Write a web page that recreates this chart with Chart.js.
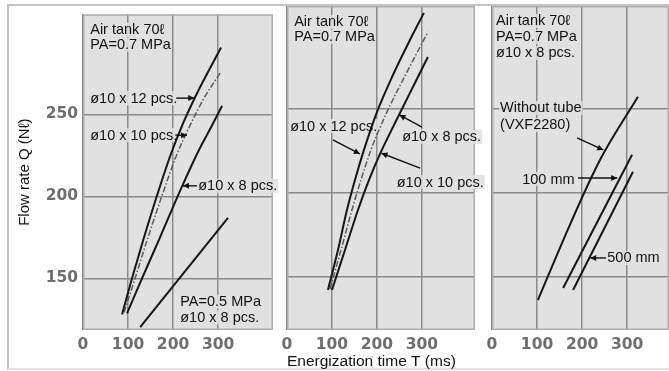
<!DOCTYPE html>
<html><head><meta charset="utf-8">
<script src="https://cdn.jsdelivr.net/npm/chart.js@4/dist/chart.umd.min.js"></script>
<style>
html,body{margin:0;padding:0;background:#fff;width:669px;height:371px;overflow:hidden}
#wrap{position:relative;width:669px;height:371px}
canvas{position:absolute;top:0}
#frame{position:absolute;left:7px;top:4px;width:670px;height:366px;border-top:2px solid #c4c4c4;border-left:2px solid #c4c4c4;border-bottom:2px solid #e2e2e2;box-sizing:border-box}
</style></head><body>
<div id="wrap">
<div id="frame"></div>
<canvas id="c1" width="282" height="371" style="left:0"></canvas>
<canvas id="c2" width="212" height="371" style="left:274px"></canvas>
<canvas id="c3" width="190" height="371" style="left:479px"></canvas>
</div>
<script>
// ---------- data (T in ms, Q in Nℓ) ----------
const xTicks = [0, 100, 200, 300];
const yTicks = [150, 200, 250];

// Panel 1: Air tank 70ℓ, PA=0.7 MPa
const p1_12pcs_T = [86.7, 108.9, 135.6, 164.4, 193.3, 222.2, 253.3, 306.7];
const p1_12pcs_Q = [128, 150, 175, 200.5, 224.3, 244.5, 262.9, 290.8];
const p1_10pcs_T = [91.1, 115.6, 144.4, 175.6, 206.7, 237.8, 268.9, 306.7];
const p1_10pcs_Q = [129.2, 150, 175, 200.5, 224.3, 243.3, 259.9, 276];
const p1_8pcs_T  = [97.8, 131.1, 171.1, 217.8, 257.8, 284.4, 308.9];
const p1_8pcs_Q  = [128.6, 150, 175, 204.7, 228.4, 242.1, 255.2];
const p1_pa05_T  = [127, 322];
const p1_pa05_Q  = [120.2, 186.9];

// Panel 2: Air tank 70ℓ, PA=0.7 MPa
const p2_12pcs_T = [91.1, 113.3, 133.3, 151.1, 171.1, 200, 235.6, 271.1, 304.4];
const p2_12pcs_Q = [142.3, 166, 189.8, 207.6, 225.5, 248, 270, 289.6, 306.9];
const p2_10pcs_T = [95.6, 120, 144.4, 164.4, 186.7, 222.2, 262.2, 313.3];
const p2_10pcs_Q = [142.9, 166, 189.8, 207.6, 225.5, 248, 269.4, 295.6];
const p2_8pcs_T  = [100, 128.9, 157.8, 182.2, 208.9, 248.9, 282.2, 313.3];
const p2_8pcs_Q  = [142.3, 166, 189.8, 207.6, 224.3, 246.2, 264.1, 280.7];

// Panel 3: Air tank 70ℓ, PA=0.7 MPa, ø10 x 8 pcs.
const p3_notube_T = [102, 173, 240, 324];
const p3_notube_Q = [136.3, 181, 219.6, 257.1];
const p3_100mm_T  = [158, 311];
const p3_100mm_Q  = [143.5, 222.6];
const p3_500mm_T  = [180, 313];
const p3_500mm_Q  = [142.3, 212.5];

// ---------- helpers ----------
const pts = (T, Q) => T.map((t, i) => ({x: t, y: Q[i]}));
const solid = (T, Q) => ({data: pts(T, Q), showLine: true, pointRadius: 0, borderColor: '#161616', borderWidth: 2, cubicInterpolationMode: 'monotone'});
const dashed = (T, Q) => ({data: pts(T, Q), showLine: true, pointRadius: 0, borderColor: '#5a5a5a', borderWidth: 1.5, borderDash: [6, 2, 1.5, 2], cubicInterpolationMode: 'monotone'});

const TXT_FONT = '14.5px "Liberation Sans", Arial, sans-serif';

const bgPlugin = {
  id: 'bg',
  beforeDraw(chart) {
    const {ctx, chartArea: a} = chart;
    ctx.save();
    ctx.fillStyle = '#e1e1e1';
    ctx.fillRect(a.left, a.top, a.right - a.left, a.bottom - a.top);
    ctx.restore();
  },
  beforeDatasetsDraw(chart) {
    const {ctx, chartArea: a} = chart;
    ctx.save();
    ctx.strokeStyle = '#adadad';
    ctx.lineWidth = 1.5;
    ctx.strokeRect(a.left + 0.75, a.top + 0.75, a.right - a.left - 1.5, a.bottom - a.top - 1.5);
    ctx.restore();
  }
};

const annotPlugin = {
  id: 'annot',
  beforeDatasetsDraw(chart, args, o) {
    const {ctx} = chart;
    const sx = chart.scales.x, sy = chart.scales.y;
    ctx.save();
    ctx.font = TXT_FONT;
    ctx.fillStyle = 'rgba(225,225,225,0.85)';
    for (const t of (o.texts || [])) {
      const x = sx.getPixelForValue(t.t), y = sy.getPixelForValue(t.q);
      const w = ctx.measureText(t.text).width;
      ctx.fillRect(x - 1, y - 7, w + 2, 14);
    }
    ctx.restore();
  },
  afterDatasetsDraw(chart, args, o) {
    const {ctx} = chart;
    const sx = chart.scales.x, sy = chart.scales.y;
    ctx.save();
    ctx.strokeStyle = '#111';
    ctx.fillStyle = '#111';
    ctx.lineWidth = 1.4;
    for (const ar of (o.arrows || [])) {
      const x1 = sx.getPixelForValue(ar[0]), y1 = sy.getPixelForValue(ar[1]);
      const x2 = sx.getPixelForValue(ar[2]), y2 = sy.getPixelForValue(ar[3]);
      ctx.beginPath(); ctx.moveTo(x1, y1); ctx.lineTo(x2, y2); ctx.stroke();
      const ang = Math.atan2(y2 - y1, x2 - x1), L = 6, W = 3;
      ctx.beginPath();
      ctx.moveTo(x2, y2);
      ctx.lineTo(x2 - L * Math.cos(ang) + W * Math.sin(ang), y2 - L * Math.sin(ang) - W * Math.cos(ang));
      ctx.lineTo(x2 - L * Math.cos(ang) - W * Math.sin(ang), y2 - L * Math.sin(ang) + W * Math.cos(ang));
      ctx.closePath(); ctx.fill();
    }
    ctx.font = TXT_FONT;
    ctx.textBaseline = 'middle';
    ctx.textAlign = 'left';
    ctx.fillStyle = '#111';
    for (const t of (o.texts || [])) {
      const x = sx.getPixelForValue(t.t), y = sy.getPixelForValue(t.q);
      ctx.fillText(t.text, x, y + 0.5);
    }
    ctx.restore();
  }
};

const tickFont = {family: '"DejaVu Sans", sans-serif', weight: 'bold', size: 15.5};

function makeChart(id, datasets, o) {
  return new Chart(document.getElementById(id), {
    type: 'scatter',
    data: {datasets},
    options: {
      responsive: false, animation: false, events: [],
      layout: {padding: {left: o.padL, right: o.padR, top: 6, bottom: 0}},
      plugins: {legend: {display: false}, tooltip: {enabled: false}, annot: o.annot},
      scales: {
        x: {
          type: 'linear', min: 0, max: o.xMax,
          afterBuildTicks: s => { s.ticks = xTicks.map(v => ({value: v})); },
          afterFit: s => { s.height = 41; },
          grid: {color: '#8a8a8a', lineWidth: 1.5, drawTicks: false},
          border: {display: false},
          ticks: {padding: 6, color: '#6e6e6e', font: tickFont, maxRotation: 0},
          title: o.xTitle ? {display: true, text: o.xTitle, align: 'start', color: '#111',
                  font: {family: '"Liberation Sans", Arial, sans-serif', size: 15.5}, padding: {top: 0, bottom: 0}} : {display: false}
        },
        y: {
          type: 'linear', min: 118.5, max: 311,
          afterBuildTicks: s => { s.ticks = yTicks.map(v => ({value: v})); },
          afterFit: s => { s.width = o.yWidth; },
          grid: {color: '#8a8a8a', lineWidth: 1.5, drawTicks: false},
          border: {display: false},
          ticks: {display: o.yLabels, padding: 5, color: '#6e6e6e', font: tickFont},
          title: o.yTitle ? {display: true, text: o.yTitle, color: '#111',
                  font: {family: '"Liberation Sans", Arial, sans-serif', size: 15}, padding: {top: 16, bottom: 0}} : {display: false}
        }
      }
    },
    plugins: [bgPlugin, annotPlugin]
  });
}

makeChart('c1', [
  solid(p1_12pcs_T, p1_12pcs_Q),
  dashed(p1_10pcs_T, p1_10pcs_Q),
  solid(p1_8pcs_T, p1_8pcs_Q),
  solid(p1_pa05_T, p1_pa05_Q)
], {
  padL: 0, padR: 9, xMax: 422, yWidth: 83, yLabels: true, yTitle: 'Flow rate Q (Nℓ)',
  annot: {
    texts: [
      {text: 'Air tank 70ℓ', t: 16, q: 301.5},
      {text: 'PA=0.7 MPa', t: 16, q: 292.6},
      {text: 'ø10 x 12 pcs.', t: 16, q: 259.9},
      {text: 'ø10 x 10 pcs.', t: 16, q: 237.3},
      {text: 'ø10 x 8 pcs.', t: 256, q: 206.4},
      {text: 'PA=0.5 MPa', t: 216, q: 135.8},
      {text: 'ø10 x 8 pcs.', t: 216, q: 126.2}
    ],
    arrows: [
      [207, 259.9, 247, 259.9],
      [205, 237.3, 231, 237.3],
      [253, 206.4, 222, 206.4]
    ]
  }
});

makeChart('c2', [
  solid(p2_12pcs_T, p2_12pcs_Q),
  dashed(p2_10pcs_T, p2_10pcs_Q),
  solid(p2_8pcs_T, p2_8pcs_Q)
], {
  padL: 13, padR: 11, xMax: 418, yWidth: 0, yLabels: false, xTitle: 'Energization time T (ms)',
  annot: {
    texts: [
      {text: 'Air tank 70ℓ', t: 16, q: 301.5},
      {text: 'PA=0.7 MPa', t: 16, q: 292.6},
      {text: 'ø10 x 12 pcs.', t: 7, q: 239.7},
      {text: 'ø10 x 8 pcs.', t: 256, q: 233.2},
      {text: 'ø10 x 10 pcs.', t: 244, q: 206.4}
    ],
    arrows: [
      [102, 231.4, 162, 223.1],
      [300, 239.1, 250, 246.3],
      [296, 214.7, 210, 223.5]
    ]
  }
});

makeChart('c3', [
  solid(p3_notube_T, p3_notube_Q),
  solid(p3_100mm_T, p3_100mm_Q),
  solid(p3_500mm_T, p3_500mm_Q)
], {
  padL: 13, padR: 0, xMax: 393, yWidth: 0, yLabels: false,
  annot: {
    texts: [
      {text: 'Air tank 70ℓ', t: 9, q: 302.1},
      {text: 'PA=0.7 MPa', t: 9, q: 292.6},
      {text: 'ø10 x 8 pcs.', t: 9, q: 283.1},
      {text: 'Without tube', t: 18, q: 250.4},
      {text: '(VXF2280)', t: 18, q: 240.3},
      {text: '100 mm', t: 67, q: 208.2},
      {text: '500 mm', t: 256, q: 161.3}
    ],
    arrows: [
      [189, 232.6, 247, 225.5],
      [191, 208.8, 278, 208.8],
      [253, 161.3, 218, 161.3]
    ]
  }
});
</script>
</body></html>
